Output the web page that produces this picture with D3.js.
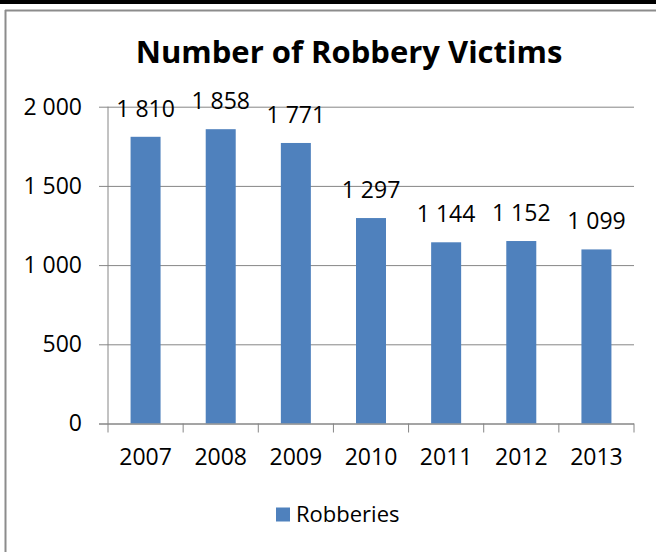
<!DOCTYPE html>
<html>
<head>
<meta charset="utf-8">
<script src="https://cdn.jsdelivr.net/npm/d3@7"></script>
<style>
  body { margin: 0; background: #fff; }
  text { font-family: "Open Sans", sans-serif; fill: #000; }
</style>
</head>
<body>
<div class="container"></div>
<script>
const years = ["2007", "2008", "2009", "2010", "2011", "2012", "2013"];
const robberies = [1810, 1858, 1771, 1297, 1144, 1152, 1099];
const yTicks = [0, 500, 1000, 1500, 2000];
const seriesName = "Robberies";
const title = "Number of Robbery Victims";

const width = 656, height = 552;
const plotLeft = 108, plotRight = 634, plotTop = 106.7, plotBottom = 423.5;
const barColor = "#4F81BD";
const gridColor = "#868686";
const fs = 23;

const fmt = d3.formatLocale({ decimal: ",", thousands: " ", grouping: [3], currency: ["", ""] }).format(",d");

const svg = d3.select(".container").append("svg")
  .attr("width", width).attr("height", height);

// frame
svg.append("rect").attr("x", 0).attr("y", 0).attr("width", width).attr("height", 4).attr("fill", "#000");
svg.append("line").attr("x1", 5).attr("x2", width).attr("y1", 10.5).attr("y2", 10.5)
  .attr("stroke", "#8c8c8c").attr("stroke-width", 2);
svg.append("line").attr("x1", 5.5).attr("x2", 5.5).attr("y1", 10).attr("y2", height)
  .attr("stroke", "#8c8c8c").attr("stroke-width", 2);

svg.append("text")
  .attr("x", 349).attr("y", 63)
  .attr("text-anchor", "middle")
  .attr("font-size", 31).attr("font-weight", "bold")
  .text(title);

const x = d3.scaleBand().domain(years).range([plotLeft, plotRight]).paddingInner(0).paddingOuter(0);
const y = d3.scaleLinear().domain([0, 2000]).range([plotBottom, plotTop]);

// gridlines + y axis
const yAxis = svg.append("g")
  .attr("transform", `translate(${plotLeft},0)`)
  .call(d3.axisLeft(y).tickValues(yTicks).tickSize(-(plotRight - plotLeft)).tickFormat(fmt).tickPadding(26));
yAxis.select(".domain").remove();
yAxis.selectAll(".tick line").attr("stroke", gridColor).attr("x1", -9);
yAxis.selectAll(".tick text").attr("font-size", fs).attr("font-family", "Open Sans");

// bars
const barW = 30;
svg.append("g").selectAll("rect")
  .data(robberies)
  .join("rect")
  .attr("x", (d, i) => x(years[i]) + x.bandwidth() / 2 - barW / 2)
  .attr("width", barW)
  .attr("y", d => y(d))
  .attr("height", d => plotBottom - y(d))
  .attr("fill", barColor);

// value labels
svg.append("g").selectAll("text")
  .data(robberies)
  .join("text")
  .attr("x", (d, i) => x(years[i]) + x.bandwidth() / 2)
  .attr("y", d => y(d) - 20)
  .attr("text-anchor", "middle")
  .attr("font-size", fs)
  .text(d => fmt(d));

// y axis line
svg.append("line").attr("x1", plotLeft).attr("x2", plotLeft).attr("y1", plotTop).attr("y2", plotBottom)
  .attr("stroke", gridColor);

// x axis
const xAxis = svg.append("g")
  .attr("transform", `translate(0,${plotBottom})`)
  .call(d3.axisBottom(x).tickSize(0).tickPadding(25));
xAxis.select(".domain").attr("stroke", gridColor).attr("d", `M${plotLeft - 9},0.5H${plotRight}`);
xAxis.selectAll(".tick text").attr("font-size", fs).attr("font-family", "Open Sans");
svg.append("g").selectAll("line")
  .data(years.concat(["end"]))
  .join("line")
  .attr("x1", (d, i) => i < years.length ? x(d) : plotRight)
  .attr("x2", (d, i) => i < years.length ? x(d) : plotRight)
  .attr("y1", plotBottom).attr("y2", plotBottom + 9)
  .attr("stroke", gridColor);

// legend
svg.append("rect").attr("x", 276).attr("y", 507.5).attr("width", 14).attr("height", 14).attr("fill", barColor);
svg.append("text").attr("x", 296).attr("y", 522).attr("font-size", 22).text(seriesName);
</script>
</body>
</html>
